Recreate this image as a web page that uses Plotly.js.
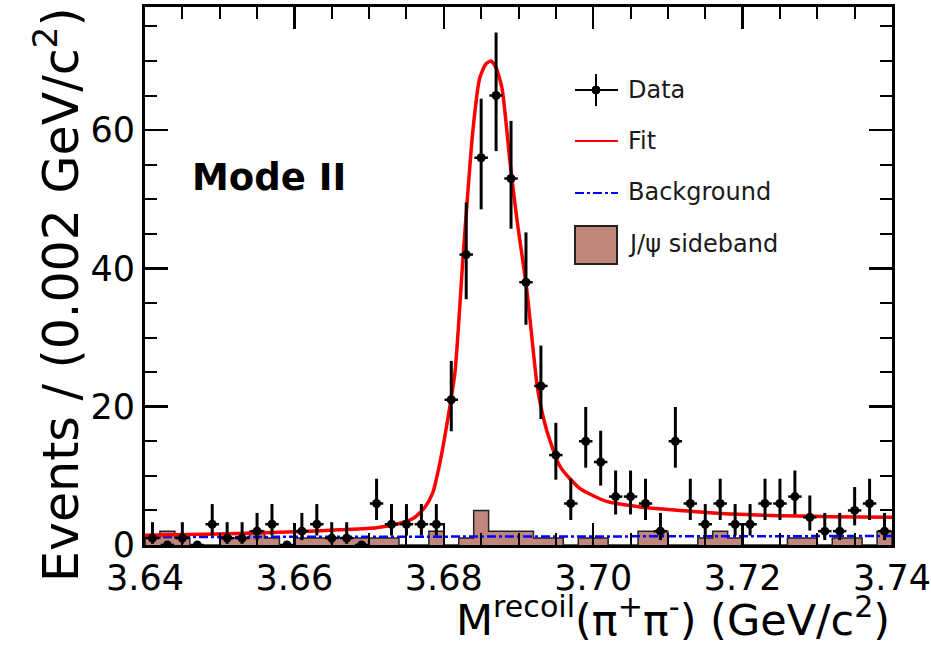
<!DOCTYPE html>
<html>
<head>
<meta charset="utf-8">
<script src="https://cdn.plot.ly/plotly-3.0.1.min.js"></script>
<style>
html,body{margin:0;padding:0;background:#fff;}
#chart{width:931px;height:647px;}
</style>
</head>
<body>
<div id="chart"></div>
<script>
// ---- data ----
const binCenters = [3.641,3.643,3.645,3.647,3.649,3.651,3.653,3.655,3.657,3.659,
                    3.661,3.663,3.665,3.667,3.669,3.671,3.673,3.675,3.677,3.679,
                    3.681,3.683,3.685,3.687,3.689,3.691,3.693,3.695,3.697,3.699,
                    3.701,3.703,3.705,3.707,3.709,3.711,3.713,3.715,3.717,3.719,
                    3.721,3.723,3.725,3.727,3.729,3.731,3.733,3.735,3.737,3.739];
const binWidth = 0.002;
const dataCounts = [1,0,1,0,3,1,1,2,3,0,
                    2,3,1,1,0,6,3,3,3,3,
                    21,42,56,65,53,38,23,13,6,15,
                    12,7,7,6,2,15,6,3,6,3,
                    3,6,6,7,4,2,2,5,6,2];
const errHigh = [2.30,0,2.30,0,2.92,2.30,2.30,2.64,2.92,0,
                 2.64,2.92,2.30,2.30,0,3.58,2.92,2.92,2.92,2.92,
                 5.62,7.53,8.54,9.11,8.33,7.21,5.84,4.67,3.58,4.96,
                 4.52,3.77,3.77,3.58,2.64,4.96,3.58,2.92,3.58,2.92,
                 2.92,3.58,3.58,3.77,3.16,2.64,2.64,3.38,3.58,2.64];
const errLow = [0.83,0,0.83,0,1.63,0.83,0.83,1.29,1.63,0,
                1.29,1.63,0.83,0.83,0,2.38,1.63,1.63,1.63,1.63,
                4.55,6.46,7.46,8.04,7.26,6.14,4.77,3.55,2.38,3.82,
                3.41,2.58,2.58,2.38,1.29,3.82,2.38,1.63,2.38,1.63,
                1.63,2.38,2.38,2.58,1.91,1.29,1.29,2.16,2.38,1.29];
const sidebandCounts = [1,2,1,0,0,1,1,2,1,0,
                        1,1,1,1,1,1,1,0,0,2,
                        0,1,5,2,2,2,1,1,0,1,
                        1,0,0,2,2,0,0,1,2,1,
                        0,0,0,1,1,0,1,1,0,2];
const fitX = [3.640,3.650,3.660,3.666,3.671,3.674,3.676,3.6775,3.6785,3.6795,
              3.6805,3.6815,3.6826,3.6839,3.6848,3.6856,3.6863,3.6870,3.6878,3.6889,
              3.6898,3.6911,3.6925,3.6931,3.6938,3.6956,3.6982,3.7018,3.7063,3.7093,
              3.7139,3.7183,3.7227,3.7273,3.7317,3.7400];
const fitY = [1.4,1.6,1.9,2.2,2.5,3.1,3.9,5.5,7.5,12,
              18,25,42,60,67.5,69.5,70,69,66,55,
              47,37,23,19.5,16.5,11.3,8.2,6.3,5.5,5.2,
              4.8,4.5,4.3,4.2,4.1,4.0];
const bkgX = [3.640,3.740];
const bkgY = [1.15,1.30];
const xTickVals = [3.64,3.66,3.68,3.70,3.72,3.74];
const xTickText = ["3.64","3.66","3.68","3.70","3.72","3.74"];
const yTickVals = [0,20,40,60];

// ---- build step outline for the sideband histogram ----
const sbX = [], sbY = [];
sbX.push(binCenters[0]-binWidth/2); sbY.push(0);
binCenters.forEach((c,i)=>{
  sbX.push(c-binWidth/2); sbY.push(sidebandCounts[i]);
  sbX.push(c+binWidth/2); sbY.push(sidebandCounts[i]);
});
sbX.push(binCenters[binCenters.length-1]+binWidth/2); sbY.push(0);

const FONT = "DejaVu Sans, Verdana, sans-serif";
const L=145, R=892, T=7, B=545;
const W=R-L, H=B-T;
const px = x => (x-L)/W;
const py = y => (B-y)/H;

const traces = [
  {x:sbX, y:sbY, type:'scatter', mode:'lines', fill:'tozeroy',
   fillcolor:'#c0867b', line:{color:'#222', width:1.5}, showlegend:false, hoverinfo:'skip'},
  {x:bkgX, y:bkgY, type:'scatter', mode:'lines',
   line:{color:'#0000ff', width:2.5, dash:'dashdot'}, showlegend:false},
  {x:fitX, y:fitY, type:'scatter', mode:'lines',
   line:{color:'#ff0000', width:3.5, shape:'spline', smoothing:0.6}, showlegend:false},
  {x:binCenters, y:dataCounts, type:'scatter', mode:'markers',
   marker:{color:'black', size:9},
   error_y:{type:'data', symmetric:false, array:errHigh, arrayminus:errLow,
            color:'black', thickness:3, width:0},
   error_x:{type:'constant', value:0.0009, color:'black', thickness:2.5, width:0},
   showlegend:false}
];

const legendShapes = [
  // Data
  {type:'line', xref:'paper', yref:'paper', x0:px(575), x1:px(618), y0:py(90), y1:py(90), line:{color:'black', width:2}},
  {type:'line', xref:'paper', yref:'paper', x0:px(596), x1:px(596), y0:py(74), y1:py(106), line:{color:'black', width:2}},
  {type:'circle', xref:'paper', yref:'paper', x0:px(592), x1:px(600), y0:py(86), y1:py(94), fillcolor:'black', line:{color:'black', width:1}},
  // Fit
  {type:'line', xref:'paper', yref:'paper', x0:px(575), x1:px(618), y0:py(141), y1:py(141), line:{color:'#ff0000', width:2}},
  // Background
  {type:'line', xref:'paper', yref:'paper', x0:px(575), x1:px(618), y0:py(193), y1:py(193), line:{color:'#0000ff', width:2, dash:'dashdot'}},
  // Sideband
  {type:'rect', xref:'paper', yref:'paper', x0:px(575), x1:px(617), y0:py(264), y1:py(226), fillcolor:'#c0867b', line:{color:'#222', width:2}}
];

const ann = (text, x, y, opts={}) => Object.assign({
  text, xref:'paper', yref:'paper', x:px(x), y:py(y), xanchor:'left', yanchor:'middle',
  showarrow:false, font:{family:FONT, size:24, color:'#1a1a1a'}
}, opts);

const annotations = [
  ann('Data', 626, 90),
  ann('Fit', 626, 141),
  ann('Background', 626, 192),
  ann('J/ψ sideband', 626, 244),
  ann('<b>Mode II</b>', 190, 177, {font:{family:FONT, size:37, color:'black'}}),
  ann('Events / (0.002 GeV/c<sup>2</sup>)', 57, 295,
      {xanchor:'center', textangle:-90, font:{family:FONT, size:49, color:'black'}}),
  ann('M<sup>recoil</sup>(π<sup>+</sup>π<sup>-</sup>) (GeV/c<sup>2</sup>)', 892, 617,
      {xanchor:'right', font:{family:FONT, size:43, color:'black'}})
];

const layout = {
  width:931, height:647,
  margin:{l:L, r:931-R, t:T, b:647-B, pad:0},
  paper_bgcolor:'white', plot_bgcolor:'white',
  showlegend:false,
  font:{family:FONT, color:'black'},
  xaxis:{
    range:[3.64,3.74], tickvals:xTickVals, ticktext:xTickText,
    ticks:'inside', ticklen:22, tickwidth:2.5, tickcolor:'black',
    minor:{dtick:0.005, tick0:3.64, ticks:'inside', ticklen:12, tickwidth:2, tickcolor:'black'},
    showline:true, linewidth:3, linecolor:'black', mirror:'ticks',
    showgrid:false, zeroline:false,
    tickfont:{family:FONT, size:35, color:'black'}
  },
  yaxis:{
    range:[0,77.8], tickvals:yTickVals,
    ticks:'inside', ticklen:23, tickwidth:2.5, tickcolor:'black',
    minor:{dtick:5, tick0:0, ticks:'inside', ticklen:12, tickwidth:2, tickcolor:'black'},
    showline:true, linewidth:3, linecolor:'black', mirror:'ticks',
    showgrid:false, zeroline:false,
    tickfont:{family:FONT, size:35, color:'black'}
  },
  shapes:legendShapes,
  annotations:annotations
};

Plotly.newPlot('chart', traces, layout, {staticPlot:true, displayModeBar:false});
</script>
</body>
</html>
